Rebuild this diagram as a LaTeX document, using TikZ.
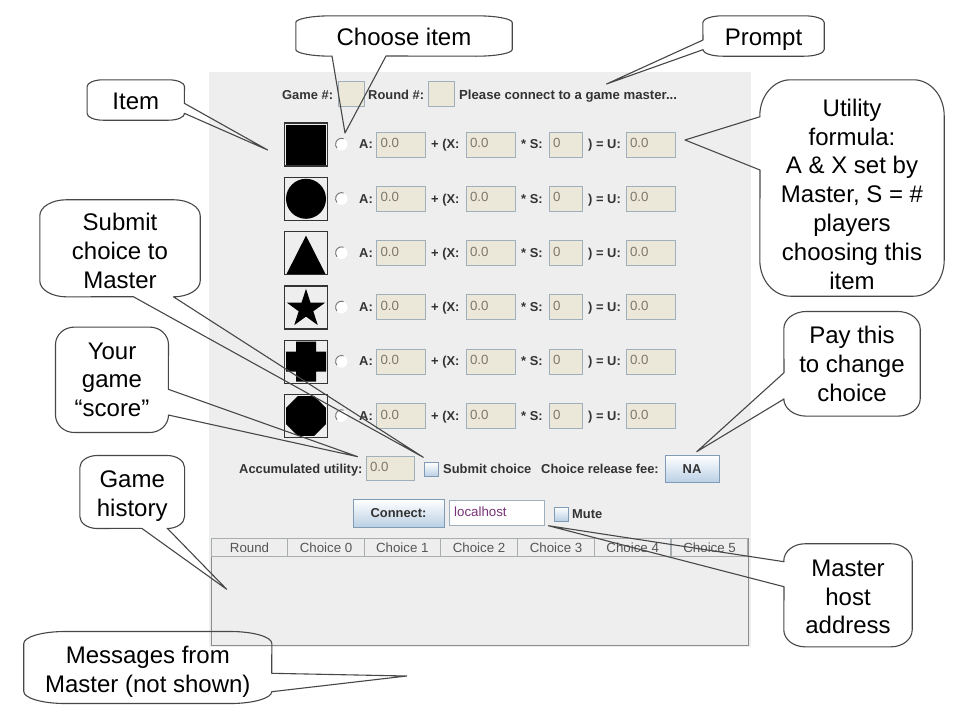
\documentclass[tikz,border=0pt]{standalone}
\usepackage{fontspec}
\setmainfont{Liberation Sans}
\usetikzlibrary{calc,shapes.geometric}

\definecolor{panelgray}{HTML}{EEEEEE}
\definecolor{fieldfill}{HTML}{ECE8D9}
\definecolor{fieldedge}{HTML}{A0AFBC}
\definecolor{btnedge}{HTML}{7F9BB5}
\definecolor{btnlow}{HTML}{B9CFE4}
\definecolor{uitext}{HTML}{333333}
\definecolor{valuetext}{HTML}{7D766C}
\definecolor{headtext}{HTML}{555555}
\definecolor{headedge}{HTML}{A8ADB0}

\newcommand{\uifont}{\fontsize{13.3}{16}\selectfont}
\newcommand{\uibold}{\fontsize{12.9}{16}\selectfont\bfseries}
\newcommand{\promptfont}{\fontsize{13.15}{16}\selectfont\bfseries}
\newcommand{\bubblefont}{\fontsize{24}{28.8}\selectfont}

\tikzset{
    bubble/.style={align=center, inner sep=0pt, font=\bubblefont},
    oneline/.style={text height=22pt, text depth=3pt},
    bubbleline/.style={draw=black!72, line width=1.1pt, line join=round},
    uilabel/.style={inner sep=0pt, font=\uibold, text=uitext, text height=11.4pt, text depth=3pt},
    field/.style={draw=fieldedge, fill=fieldfill, line width=1pt, inner xsep=4pt, inner ysep=0pt,
        text width=#1, minimum height=25pt, text height=9.5pt, text depth=3.5pt,
        font=\uifont, text=valuetext},
    button/.style={draw=btnedge, line width=1pt, top color=white, bottom color=btnlow, inner sep=0pt,
        font=\uibold, text=uitext},
    checkbox/.style={button, minimum size=14pt},
    iconbox/.style={draw=black!80, line width=1.3pt, fill=panelgray, minimum size=43pt, inner sep=0pt},
    radio/.style={circle, fill=white, minimum size=12pt, inner sep=0pt},
    headcell/.style={draw=headedge, line width=1pt, fill=panelgray, minimum height=18pt, inner sep=0pt,
        font=\uifont, text=headtext},
}

% name, rx, ry, then what the top, right, bottom and left sides add to the outline
\newcommand{\bubbleoutline}[7]{%
    \draw[bubbleline] ($(#1.north west)+(#2,0)$) #4
        -- ($(#1.north east)+(-#2,0)$) arc[start angle=90, end angle=0, x radius=#2pt, y radius=#3pt]
        #5 -- ($(#1.south east)+(0,-#3)$) arc[start angle=0, end angle=-90, x radius=#2pt, y radius=#3pt]
        #6 -- ($(#1.south west)+(#2,0)$) arc[start angle=-90, end angle=-180, x radius=#2pt, y radius=#3pt]
        #7 -- ($(#1.north west)+(0,#3)$) arc[start angle=180, end angle=90, x radius=#2pt, y radius=#3pt] -- cycle;}

\begin{document}
\begin{tikzpicture}[x=1pt, y=-1pt]
    \useasboundingbox (0,0) rectangle (960,720);
    \fill[white] (0,0) rectangle (960,720);
    \node[fill=panelgray, minimum width=542pt, minimum height=575pt, inner sep=0pt] (panel) at (480,359.5) {};

    % prompt line
    \node[uilabel, anchor=west] (gamelabel) at (282,95) {Game \#:};
    \node[field=18pt] (gamefield) at (351,94) {};
    \node[uilabel, anchor=west] (roundlabel) at (368,95) {Round \#:};
    \node[field=18pt] (roundfield) at (441,94) {};
    \node[uilabel, anchor=west, font=\promptfont] (promptlabel) at (459,95) {Please connect to a game master...};

    % item rows
    \foreach \row/\ypos in {1/144.5, 2/198.8, 3/253.1, 4/307.4, 5/361.7, 6/416} {
        \node[iconbox] (icon\row) at (306,\ypos) {};
        \node[radio] (radio\row) at (341.5,\ypos) {};
        \draw[black!55, line width=0.9pt] (radio\row.70) arc[start angle=70, end angle=220, radius=6pt];
        \node[uilabel, anchor=west] (alabel\row) at (359,\ypos) {A:};
        \node[field=41pt] (afield\row) at (401,\ypos) {0.0};
        \node[uilabel, anchor=west] (xlabel\row) at (431,\ypos) {+ (X:};
        \node[field=41pt] (xfield\row) at (490.5,\ypos) {0.0};
        \node[uilabel, anchor=west] (slabel\row) at (521,\ypos) {* S:};
        \node[field=25pt] (sfield\row) at (565.5,\ypos) {0};
        \node[uilabel, anchor=west] (ulabel\row) at (588,\ypos) {) = U:};
        \node[field=41pt] (ufield\row) at (650.5,\ypos) {0.0};
    }

    % item shapes
    \fill[black] ($(icon1.center)+(-20,-20)$) rectangle ($(icon1.center)+(20,20)$);
    \fill[black] (icon2.center) circle[radius=20pt];
    \fill[black] ($(icon3.center)+(0,-17.5)$) -- ($(icon3.center)+(19.5,21)$) -- ($(icon3.center)+(-19.5,21)$) -- cycle;
    \node[star, star points=5, star point ratio=2.6, fill=black, minimum size=40pt, inner sep=0pt] (staricon) at ($(icon4.center)+(0,1.5)$) {};
    \fill[black] ($(icon5.center)+(-20,-10)$) -| ($(icon5.center)+(-10,-20)$) -| ($(icon5.center)+(10,-10)$) -| ($(icon5.center)+(20,10)$)
        -| ($(icon5.center)+(10,20)$) -| ($(icon5.center)+(-10,10)$) -| cycle;
    \node[regular polygon, regular polygon sides=8, fill=black, minimum size=43pt, inner sep=0pt] (octicon) at (icon6.center) {};

    % score line
    \node[uilabel, anchor=west] (scorelabel) at (239,469) {Accumulated utility:};
    \node[field=40pt, minimum height=24pt] (scorefield) at (390,468) {0.0};
    \node[checkbox] (submitbox) at (431.5,469.5) {};
    \node[uilabel, anchor=west] (submitlabel) at (443,469) {Submit choice};
    \node[uilabel, anchor=west] (feelabel) at (541,469) {Choice release fee:};
    \node[button, minimum width=54pt, minimum height=27pt] (feebtn) at (692,469) {NA};

    % connect line
    \node[button, minimum width=91pt, minimum height=28pt] (connectbtn) at (398.5,513.5) {Connect:};
    \node[draw=fieldedge, fill=white, line width=1pt, minimum width=95pt, minimum height=25pt, inner sep=0pt] (hostfield) at (496.5,512.5) {};
    \node[inner sep=0pt, anchor=west, font=\uifont, text=violet!70!black!80] (hostlabel) at (454,511.5) {localhost};
    \node[checkbox] (mutebox) at (561,514) {};
    \node[uilabel, anchor=west] (mutelabel) at (572,514) {Mute};

    % history table
    \node[draw=black!45, line width=1pt, minimum width=537pt, minimum height=107pt, inner sep=0pt] (history) at (479.5,591.7) {};
    \node[headcell, minimum width=76.5pt] (headround) at (249.5,547.5) {Round};
    \foreach \col/\xpos in {0/326, 1/402.3, 2/479, 3/556, 4/632.7, 5/709.6} {
        \node[headcell, minimum width=76.5pt] (head\col) at (\xpos,547.5) {Choice \col};
    }

    % callouts
    \coordinate (choosetip) at (345,133);
    \coordinate (prompttip) at (606.5,84);
    \coordinate (itemtip) at (267.7,150);
    \coordinate (utilitytip) at (685,140);
    \coordinate (submittip) at (423.3,457.3);
    \coordinate (scoretip) at (357.7,456.7);
    \coordinate (feetip) at (696.7,451.7);
    \coordinate (historytip) at (226.7,589.3);
    \coordinate (hosttip) at (548.3,525.7);
    \coordinate (messagetip) at (406.7,676);

    \node[bubble, oneline, minimum width=216pt, minimum height=40pt] (choose) at (404,36) {Choose item};
    \bubbleoutline{choose}{36}{6.7}{}{}{ -- (386,56) -- (choosetip) -- (332,56)}{}

    \node[bubble, oneline, minimum width=121pt, minimum height=40pt] (prompt) at (763.5,36) {Prompt};
    \bubbleoutline{prompt}{20}{6.7}{}{}{}{ -- (703,49.7) -- (prompttip) -- (703,40)}

    \node[bubble, oneline, minimum width=97pt, minimum height=40pt] (item) at (135.8,100) {Item};
    \bubbleoutline{item}{16}{6.7}{}{ -- (184.3,103.3) -- (itemtip) -- (184.3,113.3)}{}{}

    \node[bubble, minimum width=184pt, minimum height=216pt] (utility) at (852,188)
        {\mbox{}\\[1pt]Utility\\formula:\\A \& X set by\\Master, S = \#\\players\\choosing this\\item};
    \bubbleoutline{utility}{30.7}{36}{}{}{}{ -- (760,170) -- (utilitytip) -- (760,116.7)}

    \node[bubble, minimum width=160pt, minimum height=96.7pt] (submit) at (120,248.3)
        {\mbox{}\\[-6.6pt]Submit\\choice to\\Master};
    \bubbleoutline{submit}{26.7}{16}{}{}{ -- (173.3,296.7) -- (submittip) -- (133.3,296.7)}{}

    \node[bubble, minimum width=112.6pt, minimum height=105pt] (score) at (112,379.8)
        {Your\\game\\“score”};
    \bubbleoutline{score}{18.8}{17.5}{}{ -- (168.3,389.3) -- (scoretip) -- (168.3,415)}{}{}

    \node[bubble, minimum width=136pt, minimum height=104.3pt] (pay) at (852,363.8)
        {Pay this\\to change\\choice};
    \bubbleoutline{pay}{22.7}{17.4}{}{}{}{ -- (784,399) -- (feetip) -- (784,372.7)}

    \node[bubble, minimum width=104.3pt, minimum height=72.6pt] (game) at (132.2,492)
        {\mbox{}\\[-4pt]Game\\history};
    \bubbleoutline{game}{17.4}{12}{}{}{ -- (167.3,528.3) -- (historytip) -- (141.7,528.3)}{}

    \node[bubble, minimum width=128pt, minimum height=102.7pt] (host) at (848,595.3)
        {\mbox{}\\[-9pt]Master\\host\\address};
    \bubbleoutline{host}{21.3}{17}{}{}{}{ -- (784,586.7) -- (hosttip) -- (784,561.7)}

    \node[bubble, minimum width=247.7pt, minimum height=71.6pt] (messages) at (147.8,667.5)
        {\mbox{}\\[-3pt]Messages from\\Master (not shown)};
    \bubbleoutline{messages}{41.3}{12}{}{ -- (271.7,673.3) -- (messagetip) -- (271.7,691.7)}{}{}
\end{tikzpicture}
\end{document}
